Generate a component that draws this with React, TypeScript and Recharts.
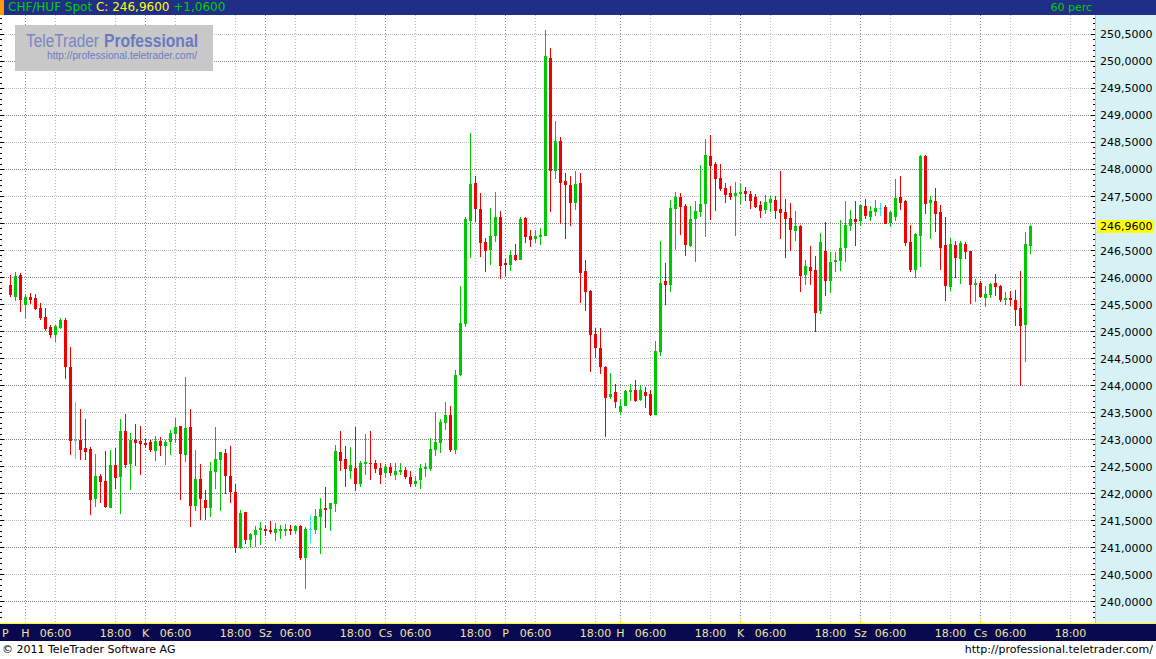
import React from 'react';
import { ComposedChart, Bar, XAxis, YAxis, CartesianGrid } from 'recharts';

// hourly CHF/HUF candles
const opens = [
  245.86, 245.65, 246.04, 245.51, 245.64, 245.62, 245.43, 245.27, 245.08, 244.96, 245.09, 245.21,
  244.34, 242.99, 242.99, 242.84, 242.82, 241.92, 242.32, 242.23, 241.75, 242.53, 242.32, 243.15,
  242.56, 242.99, 242.97, 242.93, 242.95, 242.80, 242.97, 242.90, 242.97, 243.12, 243.25, 242.73,
  243.23, 241.78, 242.27, 241.88, 241.75, 242.41, 242.64, 242.75, 242.32, 242.03, 241.01, 241.65,
  241.15, 241.25, 241.34, 241.34, 241.32, 241.28, 241.32, 241.32, 241.34, 241.32, 241.40, 240.82,
  241.34, 241.34, 241.58, 241.73, 241.73, 241.82, 242.77, 242.64, 242.44, 242.48, 242.19, 242.57,
  242.57, 242.56, 242.48, 242.39, 242.50, 242.37, 242.41, 242.43, 242.30, 242.19, 242.26, 242.48,
  242.48, 242.82, 242.95, 243.32, 243.45, 242.82, 244.21, 245.15, 247.06, 247.75, 247.27, 246.65,
  246.53, 246.78, 247.12, 246.27, 246.25, 246.41, 246.34, 247.10, 246.77, 246.73, 246.77, 246.78,
  250.06, 247.99, 248.53, 247.78, 247.71, 247.40, 247.75, 246.12, 245.75, 244.95, 244.69, 244.34,
  243.80, 243.88, 243.53, 243.64, 243.90, 243.91, 243.75, 243.88, 243.84, 243.47, 244.64, 245.93,
  245.88, 247.28, 247.49, 247.32, 246.60, 247.10, 247.23, 247.38, 248.25, 248.10, 247.84, 247.65,
  247.56, 247.53, 247.56, 247.60, 247.54, 247.49, 247.34, 247.27, 247.40, 247.43, 247.27, 247.21,
  247.10, 246.88, 246.95, 246.06, 246.19, 246.14, 245.40, 246.50, 245.95, 246.30, 246.32, 246.56,
  246.97, 247.08, 247.06, 247.32, 247.14, 247.23, 247.28, 247.30, 247.03, 247.14, 247.49, 247.41,
  246.65, 246.16, 246.78, 248.25, 247.40, 247.41, 247.21, 246.60, 245.84, 246.60, 246.36, 246.62,
  246.49, 245.88, 245.90, 245.64, 245.69, 245.90, 245.84, 245.60, 245.62, 245.58, 245.43, 245.14,
  246.60,
];

const highs = [
  246.05, 246.10, 246.09, 245.68, 245.71, 245.70, 245.53, 245.43, 245.12, 245.12, 245.25, 245.25,
  244.71, 243.69, 243.56, 243.38, 242.86, 242.73, 242.36, 242.78, 242.80, 242.84, 243.38, 243.47,
  243.12, 243.28, 243.25, 243.01, 242.99, 243.06, 243.04, 242.99, 243.17, 243.40, 243.25, 244.15,
  243.56, 242.80, 242.54, 242.06, 242.58, 243.23, 242.77, 242.82, 242.88, 242.17, 241.69, 241.65,
  241.27, 241.40, 241.47, 241.41, 241.49, 241.45, 241.41, 241.43, 241.41, 241.41, 241.41, 241.38,
  241.60, 241.71, 241.91, 242.12, 241.82, 242.90, 243.15, 242.88, 242.86, 243.23, 242.60, 243.10,
  243.15, 242.62, 242.56, 242.54, 242.56, 242.56, 242.56, 242.50, 242.41, 242.33, 242.54, 242.57,
  243.03, 243.51, 243.38, 243.69, 243.62, 244.28, 245.84, 247.12, 248.67, 247.88, 247.56, 246.73,
  247.28, 247.58, 247.23, 246.34, 246.51, 246.62, 247.12, 247.12, 246.88, 246.88, 246.91, 250.58,
  250.25, 248.90, 248.60, 247.93, 247.88, 247.97, 247.93, 246.32, 245.77, 245.06, 245.06, 244.36,
  244.23, 244.03, 243.75, 243.91, 244.03, 244.10, 244.01, 243.97, 243.91, 244.82, 246.67, 246.27,
  247.43, 247.58, 247.56, 247.36, 247.32, 247.41, 248.08, 248.56, 248.64, 248.14, 248.10, 247.75,
  247.69, 247.77, 247.73, 247.67, 247.60, 247.54, 247.41, 247.53, 247.51, 247.51, 247.97, 247.45,
  247.38, 247.23, 246.97, 246.32, 246.58, 246.40, 246.82, 247.03, 246.47, 246.47, 247.06, 247.41,
  247.25, 247.41, 247.34, 247.45, 247.32, 247.43, 247.38, 247.34, 247.23, 247.82, 247.88, 247.43,
  246.97, 246.82, 248.27, 248.27, 247.51, 247.65, 247.34, 247.12, 246.73, 246.67, 246.67, 246.65,
  246.49, 245.97, 245.93, 245.84, 245.90, 246.06, 245.86, 245.73, 245.75, 245.77, 246.12, 246.84,
  246.97,
];

const lows = [
  245.66, 245.58, 245.38, 245.27, 245.53, 245.41, 245.24, 245.03, 244.90, 244.83, 245.07, 244.14,
  242.74, 242.66, 242.64, 242.64, 241.62, 241.77, 241.85, 241.75, 241.75, 242.10, 241.64, 242.49,
  242.08, 242.53, 242.36, 242.86, 242.79, 242.62, 242.71, 242.54, 242.73, 242.96, 241.90, 242.60,
  241.40, 241.69, 241.53, 241.53, 241.58, 242.10, 241.69, 242.01, 241.84, 240.91, 240.99, 241.08,
  241.03, 241.03, 241.06, 241.23, 241.27, 241.14, 241.17, 241.23, 241.25, 241.27, 240.78, 240.25,
  241.10, 241.27, 240.90, 241.38, 241.32, 241.67, 242.43, 242.14, 242.28, 242.06, 242.13, 242.37,
  242.26, 242.39, 242.19, 242.33, 242.35, 242.26, 242.37, 242.28, 242.13, 242.13, 242.11, 242.32,
  242.43, 242.71, 242.77, 243.19, 242.78, 242.75, 244.19, 245.10, 246.38, 247.04, 246.40, 246.12,
  246.25, 246.67, 245.99, 246.04, 246.14, 246.32, 246.34, 246.65, 246.58, 246.65, 246.62, 246.78,
  247.23, 247.84, 247.01, 246.73, 246.97, 247.27, 245.54, 245.40, 244.27, 244.53, 244.23, 243.06,
  243.77, 243.60, 243.47, 243.64, 243.73, 243.71, 243.73, 243.60, 243.45, 243.47, 244.56, 245.51,
  245.75, 246.53, 246.80, 246.41, 246.58, 246.30, 247.14, 246.77, 247.08, 247.25, 247.62, 247.40,
  247.45, 246.78, 247.38, 247.43, 247.28, 247.30, 247.12, 247.19, 247.23, 247.10, 246.73, 246.38,
  246.51, 246.69, 245.75, 245.88, 245.88, 245.01, 245.34, 245.67, 245.73, 246.12, 246.14, 246.30,
  246.88, 246.60, 246.97, 247.10, 247.06, 247.15, 247.15, 247.01, 246.95, 247.06, 247.27, 246.60,
  246.12, 246.01, 246.21, 247.19, 246.73, 246.86, 246.15, 245.58, 245.77, 246.01, 245.90, 246.36,
  245.53, 245.56, 245.64, 245.47, 245.64, 245.67, 245.56, 245.51, 245.49, 245.12, 244.01, 244.45,
  246.45,
];

const closes = [
  245.70, 246.03, 245.61, 245.64, 245.60, 245.43, 245.27, 245.06, 244.96, 245.10, 245.21, 244.36,
  242.99, 242.99, 242.83, 242.79, 241.90, 242.32, 242.23, 241.77, 242.53, 242.30, 243.15, 242.54,
  242.99, 242.95, 242.93, 242.91, 242.83, 242.97, 242.90, 242.95, 243.12, 243.23, 242.75, 243.21,
  241.78, 242.27, 241.91, 241.75, 242.41, 242.64, 242.77, 242.34, 242.04, 241.01, 241.64, 241.15,
  241.25, 241.32, 241.36, 241.32, 241.30, 241.34, 241.34, 241.34, 241.32, 241.40, 240.82, 241.34,
  241.34, 241.58, 241.71, 241.71, 241.82, 242.78, 242.62, 242.47, 242.52, 242.19, 242.57, 242.59,
  242.56, 242.48, 242.37, 242.50, 242.39, 242.41, 242.43, 242.32, 242.19, 242.24, 242.48, 242.50,
  242.82, 242.95, 243.32, 243.45, 242.82, 244.19, 245.15, 247.08, 247.73, 247.28, 246.65, 246.51,
  246.77, 247.12, 246.23, 246.25, 246.41, 246.34, 247.08, 246.77, 246.71, 246.77, 246.78, 250.10,
  247.99, 248.53, 247.77, 247.73, 247.40, 247.73, 246.10, 245.75, 244.95, 244.71, 244.36, 243.78,
  243.84, 243.71, 243.62, 243.90, 243.91, 243.73, 243.91, 243.82, 243.47, 244.64, 245.90, 245.88,
  247.28, 247.49, 247.32, 246.62, 247.08, 247.23, 247.36, 248.27, 248.08, 247.84, 247.65, 247.54,
  247.51, 247.56, 247.58, 247.56, 247.43, 247.32, 247.25, 247.40, 247.45, 247.25, 247.21, 247.10,
  246.90, 246.95, 246.04, 246.21, 246.14, 245.36, 246.65, 245.95, 246.28, 246.32, 246.54, 246.97,
  247.08, 247.04, 247.34, 247.15, 247.23, 247.28, 247.28, 247.01, 247.21, 247.47, 247.40, 246.65,
  246.15, 246.80, 248.25, 247.38, 247.43, 247.19, 246.56, 245.86, 246.62, 246.38, 246.64, 246.49,
  245.88, 245.90, 245.65, 245.69, 245.88, 245.84, 245.60, 245.62, 245.60, 245.41, 245.12, 246.62,
  246.96,
];

// time axis: candle slot of each label (weekend gap removed)
const tickSlots = [
  -1.2, 3, 9, 21, 27, 33, 45, 51, 57, 69, 75, 81, 93, 99, 105, 117,
  122, 128, 140, 146, 152, 164, 170, 176, 188, 194, 200, 212,
];
const tickLabels = [
  'P', 'H', '06:00', '18:00', 'K', '06:00', '18:00', 'Sz', '06:00', '18:00', 'Cs', '06:00', '18:00', 'P', '06:00', '18:00',
  'H', '06:00', '18:00', 'K', '06:00', '18:00', 'Sz', '06:00', '18:00', 'Cs', '06:00', '18:00',
];
const dayLetters = ['P', 'H', 'K', 'Sz', 'Cs'];

const priceTicks = [
  240.0, 240.5, 241.0, 241.5, 242.0, 242.5, 243.0, 243.5, 244.0, 244.5, 245.0,
  245.5, 246.0, 246.5, 247.0, 247.5, 248.0, 248.5, 249.0, 249.5, 250.0, 250.5,
];
const lastClose = 246.96;
const change = '+1,0600';

const candles = opens.map((o, i) => ({
  i,
  o,
  h: highs[i],
  l: lows[i],
  c: closes[i],
  range: [lows[i], highs[i]],
}));

const minorTicks: number[] = [];
for (let k = 2397; k <= 2508; k++) {
  if (k % 5 !== 0) minorTicks.push(k / 10);
}
const axisTicks = [...priceTicks, ...minorTicks, lastClose];

const W = 1156;
const PLOT_TOP = 15;
const PLOT_BOTTOM = 622;
const PLOT_RIGHT = 1095;
const Y_DOMAIN: [number, number] = [239.6204, 250.8611];
const X_DOMAIN: [number, number] = [-2.1, 216.9];

const UP = '#00C800';
const DOWN = '#F00000';
const FLAT = '#30E0F8';
const FONT = '"DejaVu Sans", Verdana, sans-serif';

const fmt = (v: number) => v.toFixed(4).replace('.', ',');

const Candle = (props: any) => {
  const { x, y, width, height, payload } = props;
  const { o, h, l, c } = payload;
  const col = Math.round(x + width / 2 - 0.5);
  const k = h > l ? height / (h - l) : 0;
  const py = (v: number) => Math.round(y + (h - v) * k);
  const color = c > o ? UP : c < o ? DOWN : FLAT;
  const top = py(Math.max(o, c));
  const bot = py(Math.min(o, c));
  return (
    <g shapeRendering="crispEdges">
      <rect x={col} y={py(h)} width={1} height={Math.max(1, py(l) - py(h) + 1)} fill={color} />
      <rect x={col - 1} y={top} width={3} height={Math.max(1, bot - top + 1)} fill={color} />
    </g>
  );
};

const TimeTick = (props: any) => {
  const { x, payload } = props;
  const idx = tickSlots.indexOf(payload.value);
  const label = tickLabels[idx];
  const first = idx === 0;
  const isDay = dayLetters.includes(label);
  return (
    <g>
      {isDay && !first && (
        <rect x={Math.round(x - 0.5)} y={620} width={1} height={3} fill="#FFFF00" shapeRendering="crispEdges" />
      )}
      <text
        x={first ? 2 : x}
        y={637}
        textAnchor={first ? 'start' : 'middle'}
        fontSize={11}
        fontFamily={FONT}
        fill="#EDE3A2"
      >
        {label}
      </text>
    </g>
  );
};

const PriceTick = (props: any) => {
  const { y, payload } = props;
  const v = payload.value;
  if (v === lastClose) {
    return (
      <g>
        <rect x={1097} y={Math.round(y) - 6} width={57} height={13} fill="#FFFF00" shapeRendering="crispEdges" />
        <text x={1100} y={y + 4} fontSize={11} fontFamily={FONT} fill="#000">
          {fmt(v)}
        </text>
      </g>
    );
  }
  const major = priceTicks.includes(v);
  const len = major ? 4 : 2;
  const showLabel = major && Math.abs(v - lastClose) > 0.2;
  return (
    <g>
      <line x1={0} x2={len} y1={y} y2={y} stroke="#000" shapeRendering="crispEdges" />
      <line x1={PLOT_RIGHT - len} x2={PLOT_RIGHT} y1={y} y2={y} stroke="#000" shapeRendering="crispEdges" />
      {showLabel && (
        <text x={1100} y={y + 4} fontSize={11} fontFamily={FONT} fill="#000">
          {fmt(v)}
        </text>
      )}
    </g>
  );
};

const HLine = (props: any) => {
  const { x1, x2, y1 } = props;
  const v = Y_DOMAIN[1] - (y1 - PLOT_TOP) * (Y_DOMAIN[1] - Y_DOMAIN[0]) / (PLOT_BOTTOM - PLOT_TOP);
  const whole = Math.abs(v - Math.round(v)) < 0.05;
  return (
    <line
      x1={x1}
      x2={x2}
      y1={y1}
      y2={y1}
      stroke={whole ? '#808080' : '#BDBDBD'}
      strokeDasharray="1 1"
      shapeRendering="crispEdges"
    />
  );
};

const VLine = (props: any) => {
  const { x1, y1, y2 } = props;
  const slot = (x1 - 10.5) / 5;
  const idx = tickSlots.findIndex((s) => Math.abs(s - slot) < 0.3);
  const isDay = idx >= 0 && dayLetters.includes(tickLabels[idx]);
  return (
    <line
      x1={x1}
      x2={x1}
      y1={y1}
      y2={y2}
      stroke={isDay ? '#8C8C8C' : '#BDBDBD'}
      strokeDasharray="1 2"
      shapeRendering="crispEdges"
    />
  );
};

export default function App() {
  return (
    <div
      style={{
        position: 'absolute',
        left: 0,
        top: 0,
        width: W,
        height: 659,
        background: '#fff',
        overflow: 'hidden',
        fontFamily: FONT,
      }}
    >
      {/* header */}
      <div style={{ position: 'absolute', left: 0, top: 0, width: W, height: 15, background: '#1F2E86' }} />
      <div style={{ position: 'absolute', left: 0, top: 0, width: 4, height: 15, background: '#FF9A00' }} />
      <div
        style={{
          position: 'absolute',
          left: 8,
          top: 0,
          height: 15,
          lineHeight: '15px',
          fontSize: 12,
          whiteSpace: 'pre',
        }}
      >
        <span style={{ color: '#00D000' }}>CHF/HUF Spot </span>
        <span style={{ color: '#FFFF00' }}>C: {fmt(lastClose)} </span>
        <span style={{ color: '#00D000' }}>{change}</span>
      </div>
      <div
        style={{
          position: 'absolute',
          right: W - 1092,
          top: 0,
          height: 15,
          lineHeight: '15px',
          fontSize: 11,
          color: '#00D000',
        }}
      >
        60 perc
      </div>

      {/* right axis panel and bottom bar */}
      <div style={{ position: 'absolute', left: 1096, top: 15, width: 60, height: 608, background: '#D6F2F5' }} />
      <div style={{ position: 'absolute', left: 0, top: 624, width: W, height: 17, background: '#08084F' }} />

      <div style={{ position: 'absolute', left: 0, top: 0 }}>
        <ComposedChart
          width={W}
          height={641}
          data={candles}
          margin={{ top: PLOT_TOP, right: 0, bottom: 0, left: 0 }}
        >
          <CartesianGrid
            horizontalValues={priceTicks}
            verticalValues={tickSlots.slice(1)}
            horizontal={(p: any) => <HLine key={`h${p.index}`} {...p} />}
            vertical={(p: any) => <VLine key={`v${p.index}`} {...p} />}
          />
          <XAxis
            dataKey="i"
            type="number"
            domain={X_DOMAIN}
            allowDataOverflow
            ticks={tickSlots}
            interval={0}
            height={19}
            axisLine={false}
            tickLine={false}
            tick={(p: any) => <TimeTick {...p} />}
          />
          <YAxis
            orientation="right"
            type="number"
            domain={Y_DOMAIN}
            allowDataOverflow
            ticks={axisTicks}
            interval={0}
            width={61}
            axisLine={false}
            tickLine={false}
            tick={(p: any) => <PriceTick {...p} />}
          />
          <Bar dataKey="range" barSize={3} shape={(p: any) => <Candle {...p} />} isAnimationActive={false} />
        </ComposedChart>
      </div>

      {/* yellow axis lines */}
      <div style={{ position: 'absolute', left: PLOT_RIGHT, top: 15, width: 1, height: 608, background: '#F2D400' }} />
      <div style={{ position: 'absolute', left: 0, top: 623, width: W, height: 1, background: '#FFFF00' }} />

      {/* logo */}
      <svg style={{ position: 'absolute', left: 15, top: 25 }} width={198} height={46}>
        <rect x={0} y={0} width={198} height={46} fill="#C8C8C8" />
        <text x={11} y={22} fontSize={18} fontFamily='"Liberation Sans", Arial, sans-serif' fill="#7886C4" textLength={73} lengthAdjust="spacingAndGlyphs">
          TeleTrader
        </text>
        <text x={89} y={22} fontSize={18} fontWeight="bold" fontFamily='"Liberation Sans", Arial, sans-serif' fill="#6A7ABF" textLength={94} lengthAdjust="spacingAndGlyphs">
          Professional
        </text>
        <text x={32} y={34} fontSize={11} fontFamily='"Liberation Sans", Arial, sans-serif' fill="#6E7CC4" textLength={150} lengthAdjust="spacingAndGlyphs">
          http://professional.teletrader.com/
        </text>
      </svg>

      {/* footer */}
      <div style={{ position: 'absolute', left: 2, top: 642, fontSize: 11, lineHeight: '15px', color: '#000' }}>
        © 2011 TeleTrader Software AG
      </div>
      <div style={{ position: 'absolute', right: 3, top: 642, fontSize: 11, lineHeight: '15px', color: '#000' }}>
        http://professional.teletrader.com/
      </div>
    </div>
  );
}
